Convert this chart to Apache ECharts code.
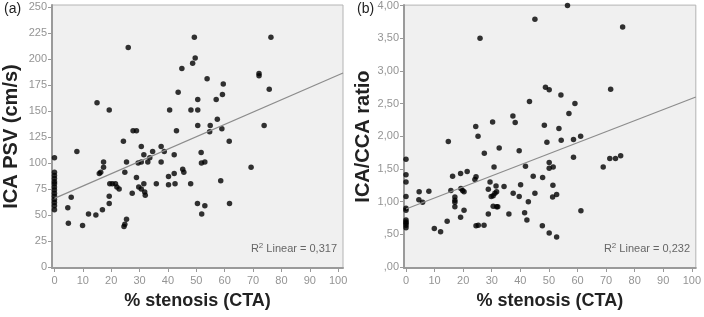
<!DOCTYPE html>
<html lang="en">
<head>
    <meta charset="UTF-8">
    <script src="https://cdn.jsdelivr.net/npm/echarts@6/dist/echarts.min.js"></script>
    <title>ICA PSV and ICA/CCA ratio vs % stenosis</title>
    <style>
        html, body { margin: 0; padding: 0; background: #fff; }
        #chart { width: 704px; height: 317px; }
    </style>
</head>
<body>
<div id="chart"></div>
<script type="text/javascript">
    // tick values
    var xTicks = [0, 10, 20, 30, 40, 50, 60, 70, 80, 90, 100];
    var psvTicks = [0, 25, 50, 75, 100, 125, 150, 175, 200, 225, 250];
    var ratioTicks = [0, 0.5, 1, 1.5, 2, 2.5, 3, 3.5, 4];

    // (a) % stenosis vs ICA PSV (cm/s)
    var psvPoints = [
        [0, 105], [0, 91], [0, 88], [0, 85], [0, 82], [0, 80], [0, 77], [0, 74], [0, 71], [0, 68],
        [0, 65], [0, 62], [0, 59], [0, 55],
        [4.7, 57], [5.9, 67], [4.9, 42], [7.9, 111], [9.9, 40], [12, 51], [14.6, 50], [15, 158],
        [15.8, 90], [16.3, 91], [16.9, 55], [17.3, 101], [17.3, 96], [19.3, 151], [19.3, 61], [19.3, 68],
        [19.5, 80], [20.4, 80], [21.5, 80], [22, 77], [22.8, 75], [24.3, 121], [24.5, 39], [24.8, 41],
        [25.4, 46], [24.8, 91], [25.4, 101], [26, 211], [27.4, 71], [27.7, 131], [28.9, 131], [28.9, 86],
        [29.7, 77], [30.6, 75], [29.5, 100], [30.6, 101], [30.6, 116], [31.5, 108], [31.5, 80], [31.8, 72],
        [32, 69], [32.9, 101], [33.6, 105], [34.6, 111], [35.9, 80], [37.6, 101], [37.6, 116], [38.7, 111],
        [40.2, 87], [40.2, 79], [40.6, 151], [42.2, 108], [42.2, 90], [42.5, 80], [43, 131], [43.6, 168],
        [44.9, 191], [45.2, 94], [45.6, 91], [48, 80], [48.1, 151], [48.7, 196], [49.3, 221], [49.6, 201],
        [50.5, 161], [50.5, 151], [50.5, 136], [50.4, 61], [51.7, 110], [51.8, 100], [53, 101], [53, 59],
        [51.9, 51], [53.8, 181], [54.7, 130], [54.9, 136], [57, 161], [57.4, 142], [58.6, 83], [59, 133],
        [59.2, 166], [59.5, 176], [61.6, 121], [61.7, 61], [69.3, 96], [72.1, 186], [72.1, 184], [73.9, 136],
        [75.7, 171], [76.3, 221]
    ];

    // (b) % stenosis vs ICA/CCA ratio
    var ratioPoints = [
        [0, 1.65], [0, 1.41], [0, 1.30], [0, 1.08], [0, 0.90], [0, 0.87], [0, 0.72], [0, 0.69], [0, 0.67],
        [0, 0.64], [0, 0.60],
        [4.6, 1.15], [4.5, 1.03], [5.8, 0.99], [8, 1.16], [9.9, 0.59], [12.1, 0.54], [14.4, 0.70], [14.8, 1.92],
        [15.7, 1.17], [16.3, 1.39], [17.1, 1.07], [17.1, 1.02], [17.1, 0.99], [17.1, 0.92], [19.1, 1.43],
        [19.2, 1.20], [19.8, 1.17], [20.3, 1.15], [19.1, 0.76], [20.3, 0.87], [21.4, 1.46], [24.1, 1.34],
        [24.5, 1.38], [24.4, 2.15], [25.2, 2.00], [24.5, 0.63], [25.3, 0.64], [25.9, 3.50], [27.3, 0.64],
        [27.4, 1.74], [28.8, 0.81], [29.4, 1.30], [28.8, 1.19], [30.3, 2.22], [30.8, 1.53], [29.8, 1.08],
        [30.5, 1.09], [31.1, 1.13], [31.7, 1.15], [30.5, 0.93], [31.7, 0.92], [32.1, 0.92], [31.5, 1.24],
        [32.6, 1.82], [34.3, 1.23], [36, 0.81], [37.4, 2.31], [38.2, 2.21], [37.5, 1.13], [39.6, 1.78],
        [39.6, 1.08], [40.1, 1.26], [41.8, 1.54], [41.5, 0.83], [42.3, 0.72], [42.8, 1.00], [43.2, 2.53],
        [44.5, 1.39], [45.1, 1.13], [45.1, 3.79], [47.8, 1.37], [47.7, 0.63], [48.4, 2.17], [48.8, 2.75],
        [49.3, 1.91], [50.1, 2.71], [50.1, 1.60], [50.1, 1.51], [51.5, 1.53], [51.4, 1.25], [51.3, 1.07],
        [52.7, 1.11], [50.1, 0.52], [52.7, 0.46], [53.5, 2.12], [54.2, 2.63], [54.3, 1.94], [56.5, 4.00],
        [57, 2.35], [58.6, 1.95], [58.6, 1.68], [59.1, 2.50], [61.1, 2.00], [61.2, 0.86], [69, 1.53],
        [71.3, 1.66], [71.6, 2.72], [73.3, 1.66], [75.1, 1.70], [75.8, 3.67]
    ];

    // linear fit: [intercept, slope]
    var psvFit = [66, 1.185];
    var ratioFit = [0.887, 0.0169];
    var r2Values = ['0,317', '0,232'];

    var font = 'Liberation Sans, Arial, sans-serif';
    var axisGray = '#9a9a9a';

    function fitLine(fit, xMax) {
        return [[0, fit[0]], [xMax, fit[0] + fit[1] * xMax]];
    }

    function xAxisOf(idx, min, max) {
        return {
            type: 'value',
            gridIndex: idx,
            min: min,
            max: max,
            name: '% stenosis (CTA)',
            nameLocation: 'middle',
            nameGap: 24,
            nameTextStyle: { fontFamily: font, fontWeight: 'bold', fontSize: 18, color: '#222' },
            splitLine: { show: false },
            axisLine: { show: true, onZero: false, lineStyle: { color: axisGray, width: 2 } },
            axisTick: { show: true, customValues: xTicks, length: 4, lineStyle: { color: axisGray } },
            axisLabel: { customValues: xTicks, color: '#949494', fontSize: 11, fontFamily: font, margin: 7 }
        };
    }

    function yAxisOf(idx, min, max, ticks, name, fmt) {
        return {
            type: 'value',
            gridIndex: idx,
            min: min,
            max: max,
            name: name,
            nameLocation: 'middle',
            nameGap: 31,
            nameRotate: 90,
            nameTextStyle: { fontFamily: font, fontWeight: 'bold', fontSize: 20, color: '#222' },
            splitLine: { show: false },
            axisLine: { show: true, onZero: false, lineStyle: { color: axisGray, width: 2 } },
            axisTick: { show: true, customValues: ticks, length: 4, lineStyle: { color: axisGray } },
            axisLabel: { customValues: ticks, color: '#949494', fontSize: 11, fontFamily: font, margin: 5, formatter: fmt }
        };
    }

    function r2Text(x, r) {
        return {
            type: 'text',
            x: x,
            y: 249,
            style: {
                text: '{a|R}{s|2}{a| Linear = ' + r + '}',
                align: 'right',
                verticalAlign: 'middle',
                rich: {
                    a: { fontFamily: font, fontSize: 11, fill: '#666' },
                    s: { fontFamily: font, fontSize: 8, fill: '#666', verticalAlign: 'top', padding: [0, 0, 6, 0] }
                }
            }
        };
    }

    var psvX = [-0.87, 101.7];
    var ratioX = [-0.7, 101.4];

    var myChart = echarts.init(document.getElementById('chart'), null, { renderer: 'canvas' });
    var option = {
        animation: false,
        backgroundColor: '#fff',
        grid: [
            { left: 49, top: 5, width: 294, height: 263, show: true, backgroundColor: '#f0f0f0', borderColor: '#b4b4b4', borderWidth: 1 },
            { left: 404, top: 5, width: 292, height: 263, show: true, backgroundColor: '#f0f0f0', borderColor: '#b4b4b4', borderWidth: 1 }
        ],
        xAxis: [
            xAxisOf(0, psvX[0], psvX[1]),
            xAxisOf(1, ratioX[0], ratioX[1])
        ],
        yAxis: [
            yAxisOf(0, -1, 252, psvTicks, 'ICA PSV (cm/s)', function (v) { return String(v); }),
            yAxisOf(1, -0.015, 4.006, ratioTicks, 'ICA/CCA ratio', function (v) {
                return v.toFixed(2).replace('.', ',').replace(/^0/, '');
            })
        ],
        graphic: [
            { type: 'text', x: 4, y: 2, style: { text: '(a)', fontFamily: font, fontSize: 14, fill: '#222' } },
            { type: 'text', x: 357, y: 2, style: { text: '(b)', fontFamily: font, fontSize: 14, fill: '#222' } },
            r2Text(337, r2Values[0]),
            r2Text(690, r2Values[1])
        ],
        series: [
            {
                type: 'line', xAxisIndex: 0, yAxisIndex: 0, silent: true, showSymbol: false,
                lineStyle: { color: '#8c8c8c', width: 1.2 },
                data: fitLine(psvFit, psvX[1])
            },
            {
                type: 'scatter', xAxisIndex: 0, yAxisIndex: 0, silent: true,
                symbolSize: 5.5, itemStyle: { color: '#000' },
                data: psvPoints
            },
            {
                type: 'line', xAxisIndex: 1, yAxisIndex: 1, silent: true, showSymbol: false,
                lineStyle: { color: '#8c8c8c', width: 1.2 },
                data: fitLine(ratioFit, ratioX[1])
            },
            {
                type: 'scatter', xAxisIndex: 1, yAxisIndex: 1, silent: true,
                symbolSize: 5.5, itemStyle: { color: '#000' },
                data: ratioPoints
            }
        ]
    };
    myChart.setOption(option);
</script>
</body>
</html>
